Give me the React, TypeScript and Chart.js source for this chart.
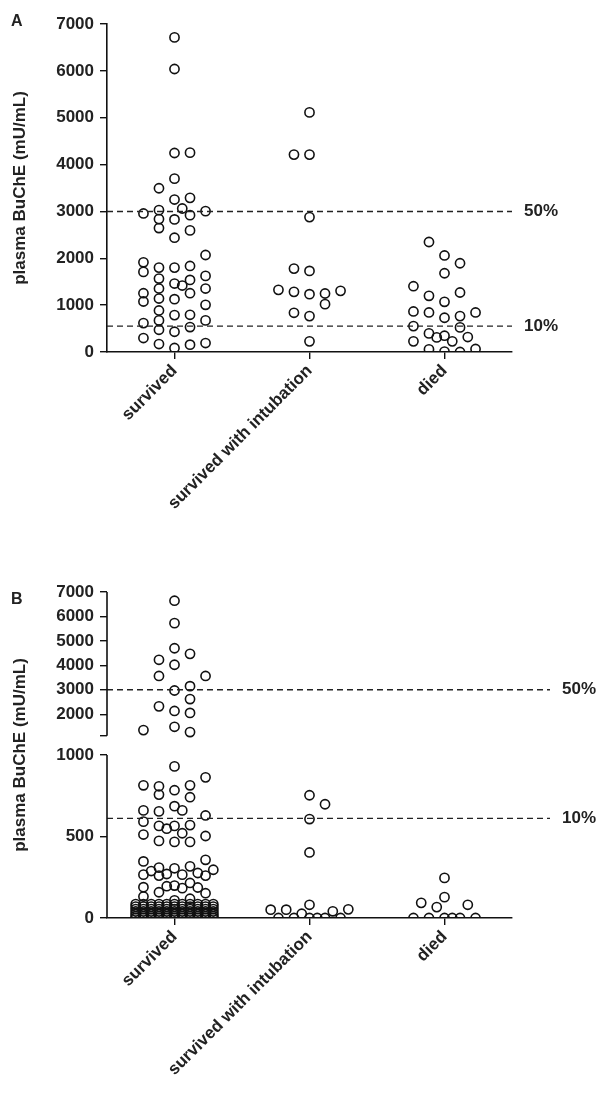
import React, { useEffect, useRef } from 'react';
import { Chart, registerables } from 'chart.js';

Chart.register(...registerables);

const categories = ['survived', 'survived with intubation', 'died'];
const COL = 0.115; // column step in x units

// Panel A — offsets (column index) and values (mU/mL)
const survivedA_off = [0,0,0,0,0,0,0,0,0,0,0,0,0, 1,1,1,1,1,1,1,1,1,1, 0.5,0.5,
  -1,-1,-1,-1,-1,-1,-1,-1,-1,-1,-1,-1, -2,-2,-2,-2,-2,-2,-2, 2,2,2,2,2,2,2];
const survivedA_val = [6714,6040,4247,3700,3254,2829,2439,1801,1461,1127,787,432,85,
  4254,3290,2921,2595,1836,1538,1255,794,532,156, 3063,1418,
  3495,3027,2836,2645,1801,1567,1354,1141,886,674,475,170,
  2957,1914,1709,1255,1078,617,298, 3006,2070,1624,1354,1007,674,191];
const intubA_off = [0,0,0,0,0,0,0, -1,-1,-1,-1, 1,1, 2, -2];
const intubA_val = [5113,4213,2879,1730,1234,766,227, 4213,1780,1284,837, 1248,1021, 1305, 1326];
const diedA_off = [-1,-1,-1,-1,-1, 0,0,0,0,0,0, 1,1,1,1,1, -2,-2,-2,-2, 2,2, -0.5, 0.5, 1.5];
const diedA_val = [2348,1199,844,397,57, 2060,1681,1071,731,348,7, 1894,1270,766,525,0,
  1404,865,553,227, 844,64, 312, 227, 319];

// Panel B — values (mU/mL), y axis broken above 1000
const survivedB_off = [0,0,0,0,0,0,0, 1,1,1,1,1, -1,-1,-1, 2, -2,
  0,0,0,0,0,0,0,0, -2,-2,-2,-2,-2,-2,-2,-2, -1,-1,-1,-1,-1,-1,-1,-1,
  1,1,1,1,1,1,1, 2,2,2,2,2,2, -0.5,-0.5,-0.5, 0.5,0.5,0.5,0.5, 1.5,1.5, -1.5, 2.5];
const survivedB_val = [6644,5726,4700,4025,2972,2135,1487, 4470,3148,2621,2054,1271, 4228,3566,2324, 3566, 1352,
  930,784,686,565,467,305,199,108, 814,660,591,512,347,266,189,132, 808,757,654,565,473,309,260,158,
  814,741,570,467,317,215,118, 863,629,503,357,260,152, 548,270,195, 660,520,266,183, 276,187, 288, 296];
// dense cluster near zero, one set per column
const clusterOff = [-2.5,-2,-1.5,-1,-0.5,0,0.5,1,1.5,2,2.5];
const clusterVals = [0,12,25,40,55,70,85];
const intubB_off = [-2.5,-2,-1.5,-1,-0.5,0,0.5,1,1.5,2,2.5, 0,0,0,0, 1];
const intubB_val = [51,0,51,0,26,0,0,0,41,0,53, 81,402,607,753, 698];
const diedB_off = [-2,-1.5,-1,-0.5,0,0,0,0.5,1,1.5,2];
const diedB_val = [0,93,0,67,246,128,0,0,0,81,0];

const refA = [{ v: 3000, label: '50%' }, { v: 553, label: '10%' }];
const refB = [{ v: 3000, label: '50%' }, { v: 611, label: '10%' }];

const ticksA = [0, 1000, 2000, 3000, 4000, 5000, 6000, 7000];
const ticksBLow = [0, 500, 1000];
const ticksBHigh = [2000, 3000, 4000, 5000, 6000, 7000];

// broken-axis mapping for panel B
const UPPER_START = 1118;
const toB = (v: number) => (v <= 1000 ? v : 1250 + (v - 2000) * 0.15);
const fromB = (m: number) => (m <= 1000 ? m : Math.round(2000 + (m - 1250) / 0.15));

const FONT = { family: 'Liberation Sans, Arial, sans-serif', size: 17, weight: 'bold' as const };

function pts(groupIdx: number, off: number[], val: number[], map: (v: number) => number) {
  return val.map((v, i) => ({ x: groupIdx + 1 + off[i] * COL, y: map(v) }));
}

function makeConfig(panel: 'A' | 'B', height: number, top: number, bottom: number): any {
  const map = panel === 'A' ? (v: number) => v : toB;
  let data: { x: number; y: number }[] = [];
  if (panel === 'A') {
    data = [
      ...pts(0, survivedA_off, survivedA_val, map),
      ...pts(1, intubA_off, intubA_val, map),
      ...pts(2, diedA_off, diedA_val, map),
    ];
  } else {
    const cluster: { x: number; y: number }[] = [];
    clusterOff.forEach(o => clusterVals.forEach(v => cluster.push({ x: 1 + o * COL, y: v })));
    data = [
      ...pts(0, survivedB_off, survivedB_val, map),
      ...cluster,
      ...pts(1, intubB_off, intubB_val, map),
      ...pts(2, diedB_off, diedB_val, map),
    ];
  }
  const refs = panel === 'A' ? refA : refB;
  const dashExtra = panel === 'A' ? 0 : 38;

  const overlay = {
    id: 'overlay',
    afterDatasetsDraw(chart: any) {
      const { ctx, chartArea, scales } = chart;
      const y = scales.y;
      ctx.save();
      ctx.strokeStyle = '#222';
      ctx.lineWidth = 1.4;
      ctx.setLineDash([6, 4]);
      ctx.fillStyle = '#222';
      ctx.font = 'bold 17px Liberation Sans, Arial, sans-serif';
      ctx.textBaseline = 'middle';
      refs.forEach(r => {
        const py = y.getPixelForValue(map(r.v));
        ctx.beginPath();
        ctx.moveTo(chartArea.left, py);
        ctx.lineTo(chartArea.right + dashExtra, py);
        ctx.stroke();
        ctx.fillText(r.label, chartArea.right + dashExtra + 12, py);
      });
      ctx.setLineDash([]);
      if (panel === 'B') {
        ctx.strokeStyle = '#111';
        ctx.lineWidth = 1.6;
        ctx.beginPath();
        ctx.moveTo(chartArea.left, y.getPixelForValue(0));
        ctx.lineTo(chartArea.left, y.getPixelForValue(1000));
        ctx.moveTo(chartArea.left, y.getPixelForValue(UPPER_START));
        ctx.lineTo(chartArea.left, y.getPixelForValue(2000));
        ctx.stroke();
      }
      ctx.restore();
    },
  };

  return {
    type: 'scatter',
    data: {
      datasets: [{
        data,
        pointRadius: 4.6,
        pointBackgroundColor: 'rgba(255,255,255,0)',
        pointBorderColor: '#111',
        pointBorderWidth: 1.6,
      }],
    },
    options: {
      animation: false,
      responsive: false,
      layout: { padding: { top, right: 94, bottom: 0, left: 10 } },
      plugins: { legend: { display: false }, tooltip: { enabled: false } },
      scales: {
        x: {
          type: 'linear',
          min: 0.5,
          max: 3.5,
          afterBuildTicks: (s: any) => { s.ticks = [1, 2, 3].map(v => ({ value: v })); },
          afterFit: (s: any) => { s.height = height - bottom; },
          ticks: {
            color: '#222',
            font: FONT,
            minRotation: 45,
            maxRotation: 45,
            autoSkip: false,
            padding: 2,
            callback: (v: any) => categories[Number(v) - 1] ?? '',
          },
          grid: { drawOnChartArea: false, drawTicks: true, tickLength: 7, color: '#111', lineWidth: 1.4 },
          border: { display: true, color: '#111', width: 1.6 },
        },
        y: {
          type: 'linear',
          min: 0,
          max: panel === 'A' ? 7000 : 2000,
          afterBuildTicks: (s: any) => {
            s.ticks = panel === 'A'
              ? ticksA.map(v => ({ value: v }))
              : [...ticksBLow.map(v => ({ value: v })), { value: UPPER_START }, ...ticksBHigh.map(v => ({ value: toB(v) }))];
          },
          afterFit: (s: any) => { s.width = 97; },
          ticks: {
            color: '#222',
            font: FONT,
            padding: 6,
            callback: (v: any) => (panel === 'B' && Math.abs(Number(v) - UPPER_START) < 1 ? '' : String(panel === 'A' ? v : fromB(Number(v)))),
          },
          title: {
            display: true,
            text: 'plasma BuChE (mU/mL)',
            color: '#222',
            font: FONT,
            padding: { top: 0, bottom: 0 },
          },
          grid: { drawOnChartArea: false, drawTicks: true, tickLength: 7, color: '#111', lineWidth: 1.4 },
          border: { display: panel === 'A', color: '#111', width: 1.6 },
        },
      },
    },
    plugins: [overlay],
  };
}

function Panel({ panel, height, top, bottom, pageTop }: { panel: 'A' | 'B'; height: number; top: number; bottom: number; pageTop: number }) {
  const ref = useRef<HTMLCanvasElement>(null);
  useEffect(() => {
    if (!ref.current) return;
    const chart = new Chart(ref.current, makeConfig(panel, height, top, bottom));
    return () => chart.destroy();
  }, [panel, height, top, bottom]);
  return (
    <div style={{ position: 'absolute', left: 0, top: pageTop, width: 606, height }}>
      <canvas ref={ref} width={606} height={height} style={{ width: 606, height }} />
      <div style={{ position: 'absolute', left: 11, top: panel === 'A' ? 12 : 30, font: 'bold 16px Liberation Sans, Arial, sans-serif', color: '#222' }}>
        {panel}
      </div>
    </div>
  );
}

export default function App() {
  return (
    <div style={{ position: 'absolute', left: 0, top: 0, width: 606, height: 1113, background: '#fff' }}>
      <Panel panel="A" height={560} top={24} bottom={352} pageTop={0} />
      <Panel panel="B" height={553} top={32} bottom={358} pageTop={560} />
    </div>
  );
}
